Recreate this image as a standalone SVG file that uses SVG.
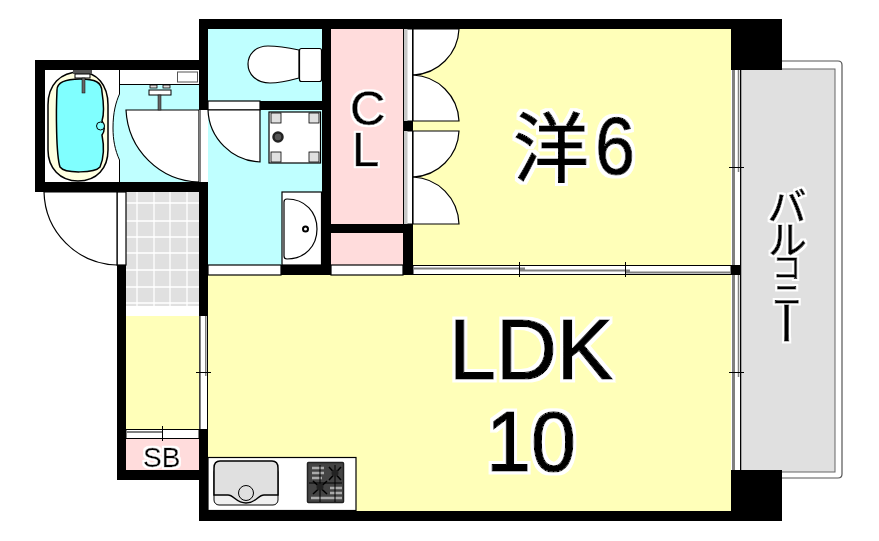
<svg xmlns="http://www.w3.org/2000/svg" width="879" height="541" viewBox="0 0 879 541">
<defs>
<filter id="h" x="-30%" y="-30%" width="160%" height="160%"><feMorphology in="SourceAlpha" operator="dilate" radius="3.2" result="o"/><feGaussianBlur in="o" stdDeviation=".6" result="ob"/><feFlood flood-color="#fff"/><feComposite in2="ob" operator="in" result="w"/><feMerge><feMergeNode in="w"/><feMergeNode in="SourceGraphic"/></feMerge></filter>
<filter id="hs" x="-30%" y="-30%" width="160%" height="160%"><feMorphology in="SourceAlpha" operator="dilate" radius="1.800" result="o"/><feGaussianBlur in="o" stdDeviation=".4" result="ob"/><feFlood flood-color="#fff"/><feComposite in2="ob" operator="in" result="w"/><feMerge><feMergeNode in="w"/><feMergeNode in="SourceGraphic"/></feMerge></filter>
</defs>
<style>
.y{fill:#ffffb9}.p{fill:#ffdcdc}.b{fill:#bfffff}.g{fill:#e0e0e0}.w{fill:#fff}.k{fill:#000}.m{fill:#808080}
.l{stroke:#000;stroke-width:1.2;fill:none}
.f{stroke:#000;stroke-width:1.2;fill:#fff}
.t{fill:#000;stroke:#000}
.s{font-family:"Liberation Sans",Arial,sans-serif}
.c{font-family:"Noto Sans CJK JP",sans-serif}
</style>
<rect width="879" height="541" fill="#fff"/>
<g id="balcony">
<path d="M741 61H838Q842 61 842 65V474Q842 478 838 478H741" fill="#fff" stroke="#555" stroke-width="1.2"/>
<rect x="741" y="69" width="94" height="403" class="g" stroke="#666" stroke-width="1"/>
</g>
<g id="rooms">
<rect x="413" y="29" width="318" height="236" class="y"/>
<rect x="208" y="275" width="523" height="236" class="y"/>
<rect x="331" y="29" width="72" height="195" class="p"/>
<rect x="331" y="233" width="72" height="32" class="p"/>
<rect x="208" y="29" width="114" height="236" class="b"/>
<rect x="45" y="70" width="75" height="112" class="w"/>
<path d="M119.500 70H199V182H119.500V160C115 150 113 140 113 128C113 112 116 102 119.500 94Z" class="b"/>
<rect x="126" y="192" width="73" height="114" class="g"/>
<path d="M137 192V306M154 192V306M170 192V306M187 192V306M126 203H199M126 221H199M126 237H199M126 253H199M126 270H199M126 287H199M126 303H199" stroke="#fff" stroke-width="1.3"/>
<rect x="126" y="316" width="73" height="113" class="y"/>
<rect x="126" y="439" width="73" height="31" class="p"/>
</g>
<g id="strips">
<rect x="126" y="306" width="73" height="10" class="w"/>
<rect x="208" y="101" width="52" height="9" class="f"/>
<rect x="208" y="265" width="73" height="10" class="f"/>
<rect x="331" y="265" width="72" height="10" class="f"/>
<rect x="117" y="192" width="9" height="73" class="f"/>
<rect x="199" y="110" width="9" height="72" class="w"/>
<rect x="403.500" y="29" width="9" height="92" fill="#fff" stroke="#000"/>
<rect x="404" y="29" width="3.500" height="92" fill="#c8c8c8"/>
<rect x="403.500" y="131" width="9" height="93" fill="#fff" stroke="#000"/>
<rect x="404" y="131" width="3.500" height="93" fill="#c8c8c8"/>
<rect x="413" y="265.500" width="318" height="9" fill="#fff" stroke="#000"/>
<path d="M413 268.500H525M519 270.500H630M625 272.500H731" stroke="#808080" stroke-width="2"/>
<path d="M519.500 262V277M625.500 262V277" stroke="#000"/>
<rect x="731" y="70" width="9.500" height="195" fill="#fff"/>
<rect x="731" y="275" width="9.500" height="195" fill="#fff"/>
<path d="M740.500 70V470" stroke="#000"/>
<path d="M733.500 70V265M733.500 275V470" stroke="#808080" stroke-width="3"/>
<path d="M738.500 70V172M738.500 275V377" stroke="#808080" stroke-width="1.500"/>
<path d="M729 167.500H744M729 372.500H744" stroke="#000"/>
<rect x="199" y="316" width="9" height="113" fill="#fff"/>
<path d="M199.500 316V429M207.500 316V429" stroke="#000" stroke-width="1"/>
<rect x="199.500" y="316" width="1.500" height="113" class="m"/>
<rect x="205" y="316" width="1.500" height="60" class="m"/>
<path d="M196 372.500H211" stroke="#000"/>
<rect x="126" y="429.500" width="73" height="9" fill="#fff" stroke="#000"/>
<rect x="126" y="431" width="36" height="2" class="m"/>
<path d="M162.500 426V441" stroke="#000"/>
</g>
<g id="doors">
<path d="M126 110H199V182C160 181 128 150 126 110Z" class="f"/>
<rect x="199" y="110" width="2" height="72" class="m"/>
<path d="M208 110H260V162C232 161 209 138 208 110Z" class="f"/>
<path d="M44 192H117V265C77 264 45 232 44 192Z" class="f"/>
<path d="M413 29H459C458 54 438 74 413 75Z" class="f"/>
<path d="M413 75C438 76 458 96 459 121H413Z" class="f"/>
<path d="M413 131H459C458 156 438 176 413 177Z" class="f"/>
<path d="M413 177C438 178 458 198 459 224H413Z" class="f"/>
</g>
<g id="bath">
<path d="M119.500 70V94C116 102 113 112 113 128C113 140 115 150 119.500 160V182" fill="none" stroke="#000"/>
<path d="M48 105C48 85 60 72 80 72C97 72 108 85 108 105V150C108 168 97 181 78 181C60 181 48 168 48 150Z" fill="#ffffe0" stroke="#000" stroke-width="1.500"/>
<path d="M57 90C57 82 65 79 80 79C95 79 102 82 102 92C104 105 104 115 102 121C105 125 105 131 102 135C105 150 103 160 100 167C95 173 65 174 60 167C56 155 56 110 57 90Z" fill="#80ffff" stroke="#000" stroke-width="1.500"/>
<circle cx="100.500" cy="126" r="4" fill="#80ffff" stroke="#000"/>
<rect x="73" y="70" width="19" height="4" fill="#555"/>
<rect x="75" y="74" width="15" height="4" fill="#fff" stroke="#000"/>
<rect x="82" y="78" width="3" height="15" fill="#666" stroke="#000" stroke-width=".5"/>
</g>
<g id="washroom">
<rect x="120" y="70" width="79" height="14" class="w"/>
<path d="M120 84.500H199" stroke="#000"/>
<rect x="177.500" y="72" width="20" height="10" class="w" stroke="#555"/>
<rect x="149" y="90" width="22" height="5" fill="#fff" stroke="#000"/>
<rect x="150" y="85" width="7" height="3" fill="#ddd" stroke="#000" stroke-width=".8"/>
<rect x="163" y="85" width="7" height="3" fill="#ddd" stroke="#000" stroke-width=".8"/>
<rect x="158" y="95" width="3" height="15" fill="#666" stroke="#000" stroke-width=".5"/>
</g>
<g id="toilet">
<path d="M299 50C285 47 275 46 268 46C255 46 248 55 248 64C248 74 256 83 270 83C278 83 288 81 299 78Z" class="f"/>
<rect x="299.500" y="48.500" width="22" height="33" rx="2" class="f"/>
</g>
<g id="washer">
<rect x="269" y="112" width="51.500" height="51" class="f" stroke-width="1.500"/>
<g class="g" stroke="#000" stroke-width=".8">
<rect x="271" y="113" width="10" height="10"/><rect x="309" y="113" width="10" height="10"/>
<rect x="271" y="152" width="10" height="10"/><rect x="309" y="152" width="10" height="10"/>
</g>
<circle cx="278" cy="137" r="4.500" fill="#555" stroke="#222" stroke-width="2.500"/>
</g>
<g id="basin">
<rect x="282" y="192" width="39.500" height="73" class="f"/>
<path d="M287 199C305 199 317 212 317 229C317 246 305 259 287 259C285 259 284 258 284 256V202C284 200 285 199 287 199Z" class="f"/>
<circle cx="305.500" cy="229" r="2.500" fill="#fff" stroke="#000" stroke-width="2"/>
</g>
<g id="kitchen">
<rect x="208" y="457.500" width="148" height="53" class="f"/>
<rect x="214" y="467" width="64" height="38" rx="5" fill="#f0f0f0" stroke="#000"/>
<path d="M214 468Q214 461 220 461H272Q278 461 278 468V495H264C258 495 256 503 246 503C236 503 234 495 228 495H214Z" class="g" stroke="#000" stroke-width="1.500"/>
<circle cx="246" cy="493" r="7.500" class="g" stroke="#000"/>
<rect x="307.500" y="462.500" width="36" height="40" rx="1" fill="#444" stroke="#222" stroke-width="1.500"/>
<path d="M312 468H324M312 473H324M312 478H322M330 488H342M330 493H342M311 498H342" stroke="#aaa" stroke-width="2.500"/>
<path d="M309 483H342M320 465V502M335 465V502" stroke="#000" stroke-width="1"/>
<path d="M329 467L341 480M341 467L329 480M313 481L327 494M327 481L313 494" stroke="#000" stroke-width="1.500"/>
<circle cx="335" cy="473" r="3.500" fill="#222"/><circle cx="320" cy="487" r="3.500" fill="#222"/>
</g>
<g id="walls" class="k">
<rect x="199" y="19" width="582" height="10"/>
<rect x="731" y="19" width="51" height="51"/>
<rect x="731" y="470" width="51" height="51"/>
<rect x="199" y="511" width="582" height="10"/>
<rect x="199" y="19" width="9" height="91"/>
<rect x="35" y="60" width="173" height="10"/>
<rect x="35" y="60" width="10" height="132"/>
<rect x="35" y="182" width="173" height="10"/>
<rect x="322" y="19" width="9" height="256"/>
<rect x="260" y="101" width="62" height="9"/>
<rect x="322" y="224" width="91" height="9"/>
<rect x="403" y="224" width="10" height="51"/>
<rect x="403" y="121" width="10" height="10"/>
<rect x="281" y="265" width="41" height="10"/>
<rect x="731" y="265" width="10" height="10"/>
<rect x="117" y="265" width="9" height="215"/>
<rect x="199" y="192" width="9" height="124"/>
<rect x="199" y="429" width="9" height="92"/>
<rect x="117" y="470" width="91" height="10"/>
</g>
<g id="labels">
<text class="t c" x="513" y="176" font-size="76" stroke-width="1" filter="url(#h)">洋</text>
<text class="t s" x="595" y="174" font-size="82" stroke-width="1" textLength="40" lengthAdjust="spacingAndGlyphs" filter="url(#h)">6</text>
<text class="t s" x="449" y="379" font-size="85" stroke-width="1.200" textLength="164" lengthAdjust="spacingAndGlyphs" filter="url(#h)">LDK</text>
<text class="t s" x="486" y="471" font-size="85" stroke-width="1.200" textLength="90" lengthAdjust="spacingAndGlyphs" filter="url(#h)">10</text>
<text class="t s" font-size="49" stroke-width=".6" filter="url(#hs)"><tspan x="350" y="125">C</tspan><tspan x="352" y="166">L</tspan></text>
<text class="t s" x="143" y="467" font-size="28" stroke-width=".3" filter="url(#hs)">SB</text>
<text class="t c" x="787" y="186" stroke-width=".8" filter="url(#hs)" style="writing-mode:vertical-rl;text-orientation:upright"><tspan font-size="40" y="186">バ</tspan><tspan font-size="40" y="219">ル</tspan><tspan font-size="30" y="252">コ</tspan><tspan font-size="30" y="279">ニ</tspan><tspan font-size="46" y="300">ー</tspan></text>
</g>
</svg>
